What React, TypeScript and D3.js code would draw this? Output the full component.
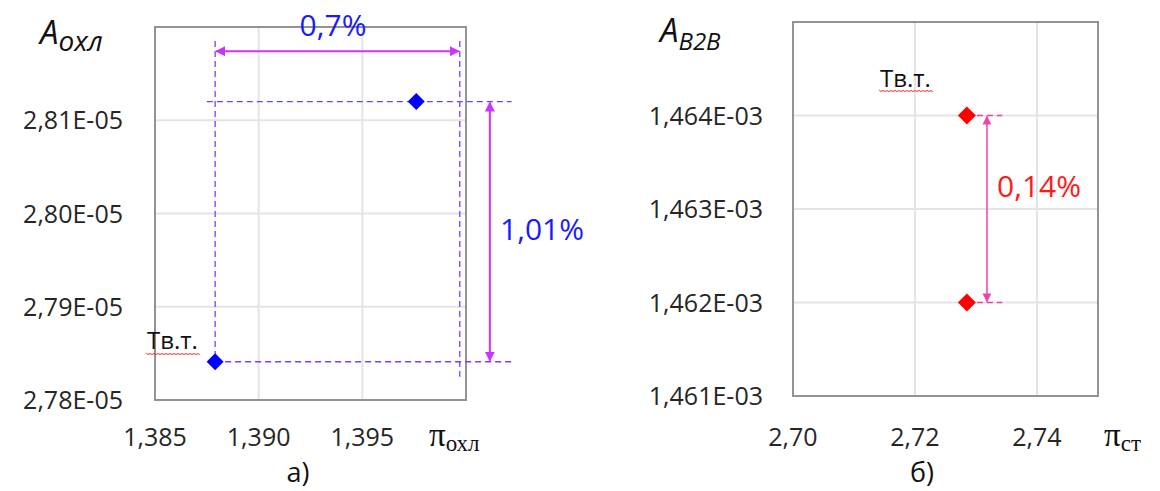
import React from "react";
import * as d3 from "d3";

// ---- Data ----
const leftX = [1.3879, 1.3976];
const leftY = [2.7841e-5, 2.812e-5];
const leftXTicks = [1.385, 1.39, 1.395];
const leftXTickLabels = ["1,385", "1,390", "1,395"];
const leftYTicks = [2.78e-5, 2.79e-5, 2.8e-5, 2.81e-5];
const leftYTickLabels = ["2,78E-05", "2,79E-05", "2,80E-05", "2,81E-05"];
const leftGridX = [1.39, 1.395];
const leftGridY = [2.79e-5, 2.8e-5, 2.81e-5];

const rightX = [2.7285, 2.7285];
const rightY = [1.462e-3, 1.464e-3];
const rightXTicks = [2.7, 2.72, 2.74];
const rightXTickLabels = ["2,70", "2,72", "2,74"];
const rightYTicks = [1.461e-3, 1.462e-3, 1.463e-3, 1.464e-3];
const rightYTickLabels = ["1,461E-03", "1,462E-03", "1,463E-03", "1,464E-03"];
const rightGridX = [2.72, 2.74];
const rightGridY = [1.462e-3, 1.463e-3, 1.464e-3];

// annotation values (data units)
const leftDxEnd = 1.3997; // right dashed guide
const leftArrowY = 2.8174e-5; // horizontal arrow level
const leftGuideTop = 2.8185e-5;
const leftGuideBottom = 2.7825e-5;
const leftVArrowX = 1.40115;
const leftHDashStart = 1.3875;
const leftHDashEnd = 1.4022;
const rightVArrowX = 2.7318;
const rightDashEnd = 2.7343;

const tickFont = "'Open Sans', sans-serif";
const serif = "'Liberation Serif', 'DejaVu Serif', serif";

function Diamond({ x, y, r, fill }: { x: number; y: number; r: number; fill: string }) {
  const p = d3.path();
  p.moveTo(x, y - r);
  p.lineTo(x + r, y);
  p.lineTo(x, y + r);
  p.lineTo(x - r, y);
  p.closePath();
  return <path d={p.toString()} fill={fill} />;
}

function Wavy({ x0, x1, y }: { x0: number; x1: number; y: number }) {
  const pts: [number, number][] = [];
  for (let x = x0, i = 0; x <= x1; x += 2, i++) pts.push([x, y + (i % 2 ? 1.2 : -1.2)]);
  const line = d3.line().curve(d3.curveBasis);
  return <path d={line(pts) || ""} stroke="#e83030" strokeWidth={1} fill="none" />;
}

export default function App() {
  const lx = d3.scaleLinear().domain([1.385, 1.4]).range([155, 466]);
  const ly = d3.scaleLinear().domain([2.78e-5, 2.82e-5]).range([400, 27]);
  const rx = d3.scaleLinear().domain([2.7, 2.75]).range([793, 1098]);
  const ry = d3.scaleLinear().domain([1.461e-3, 1.465e-3]).range([396, 22]);

  const grid = "#e4e4e4";
  const frame = "#939393";
  const tickColor = "#262626";
  const violet = "#7a3cff";
  const magenta = "#cc33ff";
  const pink = "#ee44aa";
  const fs = 25;
  const xLabelY = 446;

  return (
    <svg width={1160} height={491} style={{ position: "absolute", left: 0, top: 0, background: "#fff" }}>
      <defs>
        <marker id="mArrL" viewBox="0 0 10 10" refX="9" refY="5" markerWidth="5" markerHeight="5" orient="auto-start-reverse">
          <path d="M0,0 L10,5 L0,10 z" fill={magenta} />
        </marker>
        <marker id="mArrR" viewBox="0 0 10 10" refX="9" refY="5" markerWidth="6" markerHeight="6" orient="auto-start-reverse">
          <path d="M0,0 L10,5 L0,10 z" fill={pink} />
        </marker>
      </defs>

      {/* ===== Left panel ===== */}
      {leftGridX.map((v) => (
        <line key={"lgx" + v} x1={lx(v)} x2={lx(v)} y1={ly(2.82e-5)} y2={ly(2.78e-5)} stroke={grid} strokeWidth={2} />
      ))}
      {leftGridY.map((v) => (
        <line key={"lgy" + v} x1={lx(1.385)} x2={lx(1.4)} y1={ly(v)} y2={ly(v)} stroke={grid} strokeWidth={2} />
      ))}
      <rect x={lx(1.385)} y={ly(2.82e-5)} width={lx(1.4) - lx(1.385)} height={ly(2.78e-5) - ly(2.82e-5)} fill="none" stroke={frame} strokeWidth={2} />

      {leftYTicks.map((v, i) => (
        <text key={"lyt" + v} x={lx(1.385) - 32} y={ly(v)} dy="0.36em" textAnchor="end" fontFamily={tickFont} fontSize={fs} fill={tickColor}>
          {leftYTickLabels[i]}
        </text>
      ))}
      {leftXTicks.map((v, i) => (
        <text key={"lxt" + v} x={lx(v)} y={xLabelY} textAnchor="middle" fontFamily={tickFont} fontSize={fs} fill={tickColor}>
          {leftXTickLabels[i]}
        </text>
      ))}

      {/* guides */}
      <line x1={lx(leftX[0])} x2={lx(leftX[0])} y1={ly(leftGuideTop)} y2={ly(leftY[0])} stroke={violet} strokeWidth={1.3} strokeDasharray="6 4" />
      <line x1={lx(leftDxEnd)} x2={lx(leftDxEnd)} y1={ly(leftGuideTop)} y2={ly(leftGuideBottom)} stroke={violet} strokeWidth={1.3} strokeDasharray="6 4" />
      <line x1={lx(leftHDashStart)} x2={lx(leftHDashEnd)} y1={ly(leftY[1])} y2={ly(leftY[1])} stroke={violet} strokeWidth={1.3} strokeDasharray="6 4" />
      <line x1={lx(leftX[0])} x2={lx(leftHDashEnd)} y1={ly(leftY[0])} y2={ly(leftY[0])} stroke={violet} strokeWidth={1.3} strokeDasharray="6 4" />

      {/* arrows */}
      <line x1={lx(leftX[0]) + 1} x2={lx(leftDxEnd) - 1} y1={ly(leftArrowY)} y2={ly(leftArrowY)} stroke={magenta} strokeWidth={2} markerStart="url(#mArrL)" markerEnd="url(#mArrL)" />
      <line x1={lx(leftVArrowX)} x2={lx(leftVArrowX)} y1={ly(leftY[1]) + 1} y2={ly(leftY[0]) - 1} stroke={magenta} strokeWidth={2} markerStart="url(#mArrL)" markerEnd="url(#mArrL)" />

      {leftX.map((v, i) => (
        <Diamond key={"ld" + i} x={lx(v)} y={ly(leftY[i])} r={8.5} fill="#0000ff" />
      ))}

      <text x={333} y={36} textAnchor="middle" fontFamily={tickFont} fontSize={30} fill="#1a1aff">0,7%</text>
      <text x={500} y={240} textAnchor="start" fontFamily={tickFont} fontSize={30} fill="#1a1aff">1,01%</text>
      <text x={147} y={349} fontFamily={tickFont} fontSize={24} fill="#111">Тв.т.</text>
      <Wavy x0={146} x1={200} y={354} />

      <text x={40} y={44} fontFamily={tickFont} fontStyle="italic" fontSize={33} fill="#111">
        A<tspan fontSize={28} dy={7}>охл</tspan>
      </text>
      <text x={429} y={446} fontFamily={serif} fontSize={33} fill="#111">
        π<tspan fontSize={23} dy={5}>охл</tspan>
      </text>
      <text x={298} y={482} textAnchor="middle" fontFamily={tickFont} fontSize={27} fill="#111">а)</text>

      {/* ===== Right panel ===== */}
      {rightGridX.map((v) => (
        <line key={"rgx" + v} x1={rx(v)} x2={rx(v)} y1={ry(1.465e-3)} y2={ry(1.461e-3)} stroke={grid} strokeWidth={2} />
      ))}
      {rightGridY.map((v) => (
        <line key={"rgy" + v} x1={rx(2.7)} x2={rx(2.75)} y1={ry(v)} y2={ry(v)} stroke={grid} strokeWidth={2} />
      ))}
      <rect x={rx(2.7)} y={ry(1.465e-3)} width={rx(2.75) - rx(2.7)} height={ry(1.461e-3) - ry(1.465e-3)} fill="none" stroke={frame} strokeWidth={2} />

      {rightYTicks.map((v, i) => (
        <text key={"ryt" + v} x={rx(2.7) - 30} y={ry(v)} dy="0.36em" textAnchor="end" fontFamily={tickFont} fontSize={fs} fill={tickColor}>
          {rightYTickLabels[i]}
        </text>
      ))}
      {rightXTicks.map((v, i) => (
        <text key={"rxt" + v} x={rx(v)} y={xLabelY} textAnchor="middle" fontFamily={tickFont} fontSize={fs} fill={tickColor}>
          {rightXTickLabels[i]}
        </text>
      ))}

      {rightY.map((v, i) => (
        <line key={"rdash" + i} x1={rx(rightX[i])} x2={rx(rightDashEnd)} y1={ry(v)} y2={ry(v)} stroke={pink} strokeWidth={1.3} strokeDasharray="6 4" />
      ))}
      <line x1={rx(rightVArrowX)} x2={rx(rightVArrowX)} y1={ry(rightY[1]) + 1} y2={ry(rightY[0]) - 1} stroke={pink} strokeWidth={1.5} markerStart="url(#mArrR)" markerEnd="url(#mArrR)" />

      {rightX.map((v, i) => (
        <Diamond key={"rd" + i} x={rx(v)} y={ry(rightY[i])} r={9} fill="#ff0000" />
      ))}

      <text x={997} y={197} fontFamily={tickFont} fontSize={30} fill="#ff1a1a">0,14%</text>
      <text x={880} y={87} fontFamily={tickFont} fontSize={24} fill="#111">Тв.т.</text>
      <Wavy x0={879} x1={933} y={91} />

      <text x={660} y={42} fontFamily={tickFont} fontStyle="italic" fontSize={33} fill="#111">
        A<tspan fontSize={24} dy={8}>B2B</tspan>
      </text>
      <text x={1104} y={446} fontFamily={serif} fontSize={33} fill="#111">
        π<tspan fontSize={23} dy={5}>ст</tspan>
      </text>
      <text x={922} y={482} textAnchor="middle" fontFamily={tickFont} fontSize={27} fill="#111">б)</text>
    </svg>
  );
}
